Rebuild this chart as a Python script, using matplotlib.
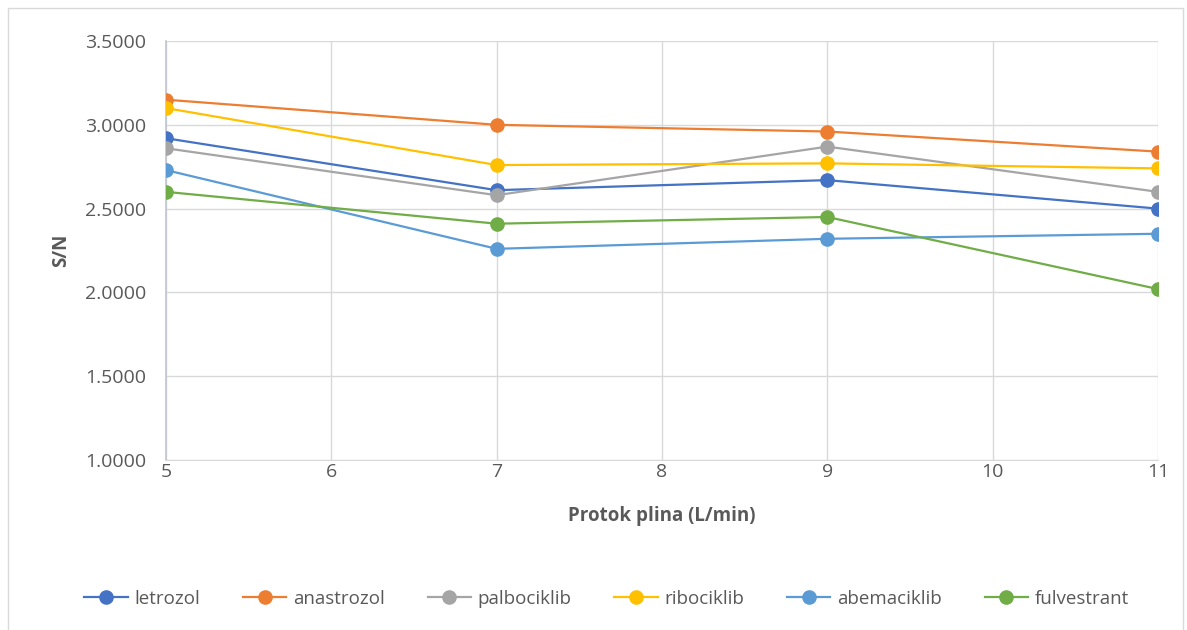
import matplotlib
matplotlib.use("Agg")
import matplotlib.pyplot as plt
from matplotlib.patches import Rectangle
from matplotlib.ticker import FormatStrFormatter

# Data
flow = [5, 7, 9, 11]
letrozol = [2.92, 2.61, 2.67, 2.50]
anastrozol = [3.15, 3.00, 2.96, 2.84]
palbociklib = [2.86, 2.58, 2.87, 2.60]
ribociklib = [3.10, 2.76, 2.77, 2.74]
abemaciklib = [2.73, 2.26, 2.32, 2.35]
fulvestrant = [2.60, 2.41, 2.45, 2.02]

series = [
    ("letrozol", letrozol, "#4472C4"),
    ("anastrozol", anastrozol, "#ED7D31"),
    ("palbociklib", palbociklib, "#A5A5A5"),
    ("ribociklib", ribociklib, "#FFC000"),
    ("abemaciklib", abemaciklib, "#5B9BD5"),
    ("fulvestrant", fulvestrant, "#70AD47"),
]

plt.rcParams["font.family"] = ["Open Sans", "DejaVu Sans"]
text_color = "#595959"

fig = plt.figure(figsize=(11.87, 6.3), dpi=100)
ax = fig.add_axes([0.1398, 0.2698, 0.8358, 0.6651])

for name, vals, color in series:
    ax.plot(flow, vals, color=color, linewidth=1.6, marker="o",
            markersize=9.5, label=name, zorder=3)

ax.set_xlim(5, 11)
ax.set_ylim(1.0, 3.5)
ax.set_xticks(range(5, 12))
ax.set_yticks([1.0, 1.5, 2.0, 2.5, 3.0, 3.5])
ax.yaxis.set_major_formatter(FormatStrFormatter("%.4f"))
ax.grid(True, color="#D9D9D9", linewidth=1)
ax.set_axisbelow(True)

for s in ["top", "right"]:
    ax.spines[s].set_visible(False)
ax.spines["left"].set_color("#BFC5D0")
ax.spines["bottom"].set_color("#D9D9D9")
ax.spines["left"].set_linewidth(1.2)
ax.tick_params(length=0, labelsize=14, colors=text_color)
ax.tick_params(axis="y", pad=14)
ax.tick_params(axis="x", pad=2)

ax.set_xlabel("Protok plina (L/min)", fontsize=13.5, fontweight="bold",
              color=text_color, labelpad=18)
ax.set_ylabel("S/N", fontsize=13.5, fontweight="bold", color=text_color,
              labelpad=10)

fig.legend(loc="center", bbox_to_anchor=(0.511, 0.05), ncol=6, frameon=False,
           fontsize=13.5, labelcolor=text_color, handlelength=2.3,
           columnspacing=2.3, handletextpad=0.35)

# chart frame
fig.patches.append(Rectangle((0.007, -0.01), 0.99, 0.997,
                             transform=fig.transFigure, fill=False,
                             edgecolor="#D9D9D9", linewidth=1))

fig.savefig("out.png", dpi=100)
